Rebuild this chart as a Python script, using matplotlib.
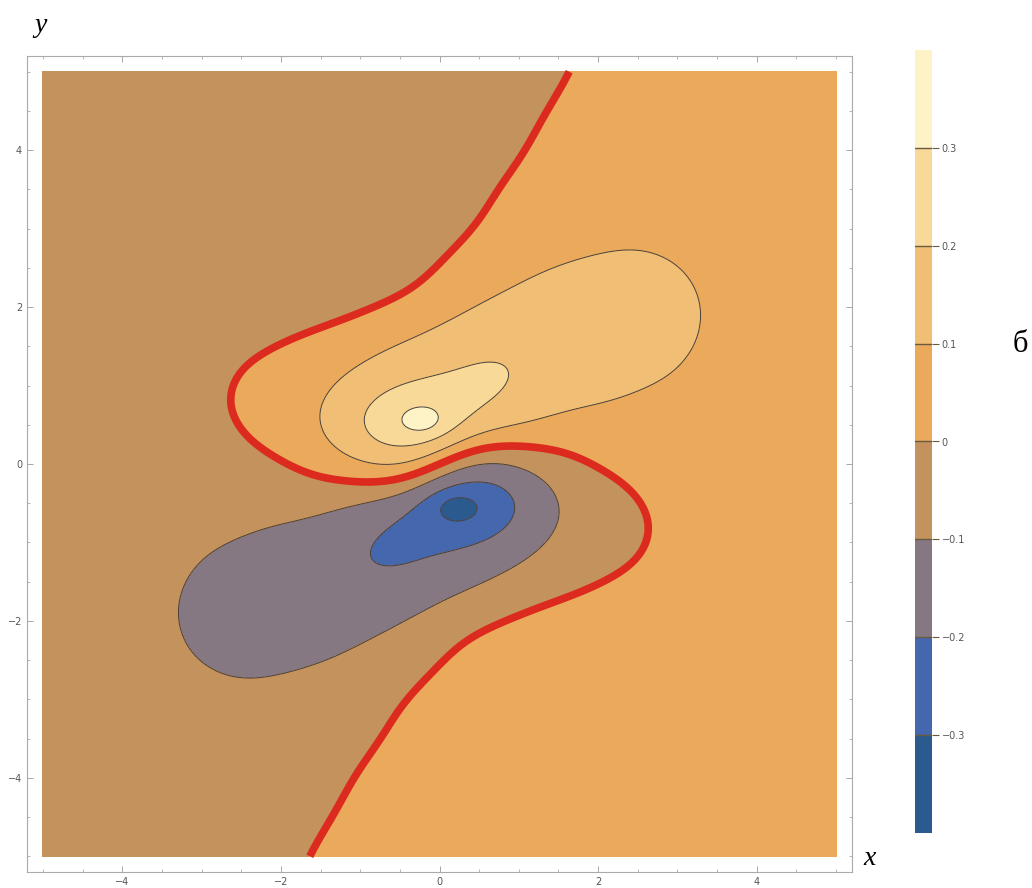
import numpy as np
import matplotlib
matplotlib.use("Agg")
import matplotlib.pyplot as plt
from matplotlib.colors import ListedColormap, BoundaryNorm

# contour levels and fill colours (one colour per band, bottom to top)
levels = [-0.4, -0.3, -0.2, -0.1, 0.0, 0.1, 0.2, 0.3, 0.4]
band_colors = ['#2b5a8e', '#4467ae', '#857882', '#c4925d',
               '#eba95b', '#f0be74', '#f9d997', '#fdf3c6']
line_levels = [-0.3, -0.2, -0.1, 0.1, 0.2, 0.3]
cbar_ticks = [-0.3, -0.2, -0.1, 0.0, 0.1, 0.2, 0.3]
cbar_labels = ['\u22120.3', '\u22120.2', '\u22120.1', '0', '0.1', '0.2', '0.3']
axis_ticks = [-4, -2, 0, 2, 4]

# points on each contour
zero_x = [1.64, 1.35, 1.01, 0.63, 0.21, -0.13, -0.50, -0.76, -1.13, -1.64,
          -2.05, -2.39, -2.58, -2.61, -2.48, -2.23, -1.89, -1.42, -0.88,
          -0.25, 0.40, 1.05, 1.47, 1.87, 2.23, 2.40, 2.64, 2.64, 2.36, 1.85,
          1.22, 0.59, 0.16, -0.13, -0.63, -1.17, -1.61]
zero_y = [4.97, 4.38, 3.83, 3.27, 2.68, 2.34, 2.12, 2.00, 1.83, 1.67,
          1.51, 1.28, 1.03, 0.73, 0.43, 0.18, 0.01, -0.14, -0.18,
          -0.10, 0.18, 0.23, 0.18, 0.03, -0.18, -0.33, -0.67, -1.00, -1.35,
          -1.56, -1.82, -2.11, -2.40, -2.75, -3.38, -4.27, -4.97]
p01_x = [-0.50, -1.01, -1.35, -1.47, -1.36, -1.10, -0.67, 0.00, 0.25, 0.72,
         1.26, 1.85, 2.43, 2.93, 3.24, 3.34, 3.25, 2.93, 2.43, 1.89, 1.26,
         0.63, 0.00]
p01_y = [1.55, 1.26, 0.94, 0.60, 0.27, 0.05, -0.05, 0.18, 0.27, 0.43,
         0.60, 0.78, 0.94, 1.23, 1.58, 1.96, 2.30, 2.57, 2.72, 2.66, 2.47,
         2.12, 1.70]
p02_x = [0.25, -0.34, -0.67, -0.91, -0.88, -0.67, -0.34, 0.00, 0.50, 0.84,
         0.94, 0.79, 0.42, 0.63, 0.92]
p02_y = [1.23, 1.11, 0.94, 0.65, 0.34, 0.16, 0.11, 0.24, 0.66, 0.90,
         1.09, 1.23, 1.28, 1.28, 1.00]
p03_x = [-0.42, 0.00, -0.21, -0.21]
p03_y = [0.56, 0.56, 0.71, 0.41]
n01_x = [-3.27, -3.11, -2.68, -2.05, -1.42, -0.79, -2.98, -2.36, -1.64,
         -0.92, -0.16, 0.59, 1.13, 1.42, 1.49, 1.39, 1.01, 0.38]
n01_y = [-1.82, -1.31, -0.97, -0.74, -0.59, -0.37, -2.53, -2.75, -2.53,
         -2.20, -1.86, 0.01, -0.03, -0.33, -0.62, -0.93, -1.22, -1.51]
n02_x = [-0.25, 0.25, 0.76, 0.97, 0.84, 0.47, 0.00, -0.92, -0.59]
n02_y = [-1.26, -1.09, -0.88, -0.55, -0.24, -0.14, -0.23, -1.09, -0.67]
n03_x = [0.02, 0.44, 0.23, 0.23]
n03_y = [-0.56, -0.56, -0.43, -0.69]
peak_x, peak_y, peak_val = -0.22, 0.56, 0.395
far_x = [4.5, 4.5, 4.5, 4.5, 4.5, 2.5, 0.5, 3.0]
far_y = [4.5, 2.5, 0.0, -2.5, -4.5, -4.5, -4.5, 4.5]
far_val = 0.04

# odd field f(-x,-y) = -f(x,y): gaussian bumps + sharp peak + tilted step
S = 0.55
gx, gy = np.meshgrid(np.arange(-4.5, 4.51, 0.5), np.arange(0, 5.01, 0.5))
keep = (gy > 0) | (gx > 0)
CX, CY = gx[keep], gy[keep]


def cols(x, y):
    x = np.asarray(x, float).ravel()[:, None]
    y = np.asarray(y, float).ravel()[:, None]
    return x, y


def design(x, y):
    x, y = cols(x, y)
    g = (np.exp(-((x - CX) ** 2 + (y - CY) ** 2) / (2 * S * S))
         - np.exp(-((x + CX) ** 2 + (y + CY) ** 2) / (2 * S * S)))
    cusp = (np.exp(-np.hypot((x - peak_x) / 0.3, (y - peak_y) / 0.2))
            - np.exp(-np.hypot((x + peak_x) / 0.3, (y + peak_y) / 0.2)))
    step = np.tanh(x - 0.33 * y)
    return np.hstack([g, cusp, step])


def bending(x, y):
    # second derivatives of the gaussian part (thin plate penalty)
    x, y = cols(x, y)
    rows = []
    for sign in (1, -1):
        dx, dy = x - sign * CX, y - sign * CY
        g = sign * np.exp(-(dx ** 2 + dy ** 2) / (2 * S * S))
        rows.append((g * (dx ** 2 / S ** 4 - 1 / S ** 2),
                     g * (dx * dy / S ** 4) * np.sqrt(2),
                     g * (dy ** 2 / S ** 4 - 1 / S ** 2)))
    out = [rows[0][k] + rows[1][k] for k in range(3)]
    z = np.zeros((len(x), 2))
    return np.vstack([np.hstack([o, z]) for o in out])


px, py, pv = [], [], []
for xs_, ys_, lv in [(zero_x, zero_y, 0.0), (p01_x, p01_y, 0.1),
                     (p02_x, p02_y, 0.2), (p03_x, p03_y, 0.3),
                     (n01_x, n01_y, -0.1), (n02_x, n02_y, -0.2),
                     (n03_x, n03_y, -0.3), (far_x, far_y, far_val)]:
    px += list(xs_)
    py += list(ys_)
    pv += [lv] * len(xs_)
px += [peak_x, peak_x]
py += [peak_y, peak_y]
pv += [peak_val, peak_val]

sx, sy = np.meshgrid(np.arange(-5, 5.01, 0.25), np.arange(0, 5.01, 0.25))
B = bending(sx, sy)
A = np.vstack([design(px, py), 0.04 * B, 0.01 * np.eye(len(CX) + 2)])
b = np.concatenate([pv, np.zeros(B.shape[0] + len(CX) + 2)])
coef = np.linalg.lstsq(A, b, rcond=None)[0]

grid = np.linspace(-5, 5, 401)
X, Y = np.meshgrid(grid, grid)
Z = np.concatenate([design(X.ravel()[i:i + 20000], Y.ravel()[i:i + 20000]) @ coef
                    for i in range(0, X.size, 20000)]).reshape(X.shape)

fig = plt.figure(figsize=(10.32, 8.88), dpi=100)
ax = fig.add_axes([27 / 1032, 16 / 888, 825 / 1032, 816 / 888])

cmap = ListedColormap(band_colors)
norm = BoundaryNorm(levels, cmap.N)
cf = ax.contourf(X, Y, Z, levels=levels, cmap=cmap, norm=norm)
ax.contour(X, Y, Z, levels=line_levels, colors='#4a4038', linewidths=0.7,
           linestyles='solid')
ax.contour(X, Y, Z, levels=[0.0], colors='#dc2a1e', linewidths=5.5)

ax.set_xlim(-5.2, 5.2)
ax.set_ylim(-5.2, 5.2)
ax.set_xticks(axis_ticks)
ax.set_yticks(axis_ticks)
ax.set_xticks(np.arange(-5, 5.01, 0.5), minor=True)
ax.set_yticks(np.arange(-5, 5.01, 0.5), minor=True)
ax.tick_params(which='both', direction='in', top=True, right=True,
               color='#999999', labelsize=7, labelcolor='#555555')
ax.tick_params(which='major', length=4, width=0.6)
ax.tick_params(which='minor', length=2, width=0.5)
ax.tick_params(top=True, labeltop=False, right=True, labelright=False)
for s in ax.spines.values():
    s.set_color('#aaaaaa')
    s.set_linewidth(0.8)

# colour bar
cax = fig.add_axes([915 / 1032, 55 / 888, 17 / 1032, 783 / 888])
cb = fig.colorbar(cf, cax=cax, ticks=cbar_ticks)
cb.ax.set_yticklabels(cbar_labels)
cb.ax.minorticks_off()
cb.outline.set_visible(False)
cb.ax.tick_params(length=5, width=0.8, color='#6a5a40', labelsize=7,
                  labelcolor='#555555', pad=2)
for t in cbar_ticks:
    cb.ax.axhline(t, color='#6a5a40', linewidth=1.0)

fig.text(40 / 1032, 1 - 25 / 888, 'y', family='Liberation Serif',
         style='italic', fontsize=20, ha='center', va='center')
fig.text(870 / 1032, 1 - 858 / 888, 'x', family='Liberation Serif',
         style='italic', fontsize=20, ha='center', va='center')
fig.text(1020 / 1032, 1 - 345 / 888, '\u0431', family='Liberation Serif',
         fontsize=22, ha='center', va='center')

fig.savefig('out.png', dpi=100)
